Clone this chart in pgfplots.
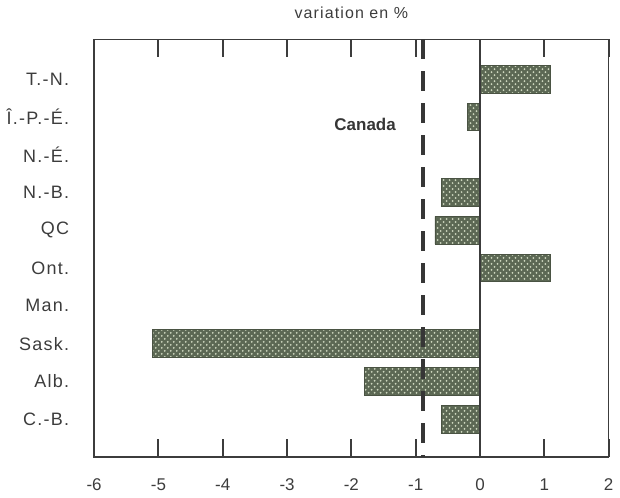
\documentclass[border=0pt]{standalone}
\usepackage{pgfplots}
\pgfplotsset{compat=1.18}
\usepackage{fontspec}
\setmainfont{Liberation Sans}
\newfontfamily\lsfont{Liberation Sans}[LetterSpace=7]
\usetikzlibrary{patterns}
\definecolor{txt}{RGB}{60,60,60}
\definecolor{barfill}{RGB}{92,104,84}
\definecolor{dotc}{RGB}{205,214,190}
\begin{document}
\begin{tikzpicture}
\begin{axis}[
  width=257.5pt, height=209pt, scale only axis,
  xmin=-6, xmax=2, ymin=-1.05, ymax=10,
  y dir=reverse,
  xtick={-6,...,2},
  xtick pos=both, xticklabel pos=lower,
  tick align=inside, major tick length=9pt,
  ytick={0,...,9},
  yticklabels={T.-N.,Î.-P.-É.,N.-É.,N.-B.,QC,Ont.,Man.,Sask.,Alb.,C.-B.},
  ytick pos=left,
  ytick style={draw=none},
  xtick style={line width=1pt, draw=txt},
  axis line style={draw=txt, line width=0.8pt},
  /pgf/number format/assume math mode=true,
  every tick label/.append style={font=\fontsize{8.5}{10}\selectfont, text=txt},
  xticklabel style={yshift=-7.5pt},
  yticklabel style={font=\lsfont\fontsize{9}{10}\selectfont, xshift=-9pt},
  title={\lsfont variation en \%},
  title style={font=\fontsize{8}{9.5}\selectfont, text=txt, yshift=1pt},
]
\addplot[xbar, bar width=0.73, fill=barfill, draw=barfill!80!black,
  postaction={pattern=crosshatch dots, pattern color=dotc}]
  coordinates {(1.1,0) (-0.2,1) (0,2) (-0.6,3) (-0.7,4) (1.1,5) (0,6) (-5.1,7) (-1.8,8) (-0.6,9)};
\addplot[draw=txt, line width=0.7pt] coordinates {(0,-1.05) (0,10)};
\addplot[draw=txt!90!black, line width=2pt, dash pattern=on 10pt off 6pt] coordinates {(-0.88,-1.05) (-0.88,10)};
\node[anchor=east, font=\fontsize{8.5}{10}\bfseries, text=txt!90!black] at (axis cs:-1.2,1.2) {Canada};
\end{axis}
\end{tikzpicture}
\end{document}
